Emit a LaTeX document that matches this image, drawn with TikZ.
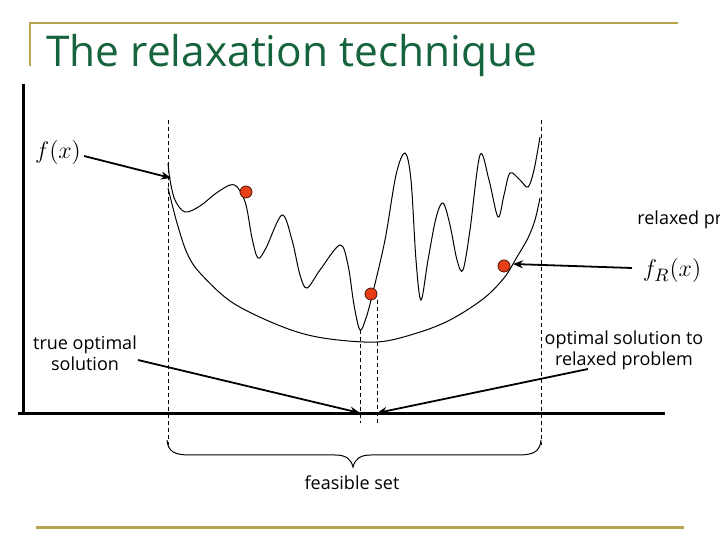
\documentclass[tikz,border=0pt]{standalone}
\usepackage[no-math]{fontspec}
\setmainfont{Open Sans}
\usetikzlibrary{arrows.meta}
\definecolor{gold}{RGB}{185,165,75}
\definecolor{titlegreen}{RGB}{22,100,62}
\definecolor{dotred}{RGB}{232,62,22}
\tikzset{
  axisline/.style={line width=1.5pt},
  goldline/.style={gold,line width=1.2pt},
  guide/.style={dash pattern=on 2pt off 1.5pt,line width=0.45pt},
  curve/.style={line width=0.5pt},
  arr/.style={line width=0.9pt,-{Stealth[length=5pt,width=4pt]}},
  lbl/.style={font=\fontsize{9}{10.5}\selectfont,align=center,inner sep=0pt},
  mathlbl/.style={font=\fontsize{12.5}{14}\selectfont,inner sep=0pt},
  rdot/.style={circle,fill=dotred,draw=black!70!dotred,line width=0.4pt,minimum size=6pt,inner sep=0pt}
}
\begin{document}
\begin{tikzpicture}[x=0.5pt,y=-0.5pt]
\useasboundingbox (0,0) rectangle (720,540);
% frame
\draw[goldline] (30,66) -- (30,23) -- (678,23);
\draw[goldline,line width=1.5pt] (36,528) -- (684,528);
\node[anchor=base west,inner sep=0pt,font=\fontsize{21.2}{26}\selectfont,text=titlegreen] (title) at (46,67) {The relaxation technique};
% axes
\draw[axisline] (24,84) -- (24,414);
\draw[axisline] (18,414) -- (665,414);
% dashed guides
\draw[guide] (168,120) -- (168,445);
\draw[guide] (541,120) -- (541,445);
\draw[guide] (360,330) -- (360,423);
\draw[guide] (377,300) -- (377,423);
% f(x)
\draw[curve] plot[smooth,tension=0.55] coordinates {
 (168,163) (170,180) (175,200) (185,212) (200,206) (215,194) (230,185) (238,188)
 (246,205) (252,238) (258,258) (266,248) (282,215) (292,240) (300,275) (307,288)
 (320,270) (340,245) (348,265) (354,305) (360,330) (366,318) (372,296) (385,240)
 (396,175) (405,153) (411,180) (416,260) (421,300) (428,260) (436,218) (443,203)
 (450,225) (457,260) (463,270) (470,230) (480,155) (489,180) (498,217) (504,195)
 (510,173) (520,180) (528,187) (534,170) (540,137)};
% f_R(x)
\draw[curve] plot[smooth,tension=0.55] coordinates {
 (168,188) (177,223) (187,253) (200,273) (233,303) (283,327) (323,338) (377,342)
 (417,333) (450,320) (483,299) (504,278) (517,257) (528,238) (535,220) (540,198)};
% dots
\node[rdot] (d1) at (246,192) {};
\node[rdot] (d2) at (371,294) {};
\node[rdot] (d3) at (504,266) {};
% labels
\node[mathlbl] (fx) at (58,153) {$f(x)$};
\node[mathlbl] (fR) at (672,271) {$f_R(x)$};
\node[lbl,anchor=west] (rp) at (637,220) {relaxed pr};
\node[lbl] (tos) at (85,353) {true optimal\\solution};
\node[lbl] (osr) at (624,350) {optimal solution to\\relaxed problem};
\node[lbl] (fs) at (352,483) {feasible set};
% arrow targets
\coordinate (fxt) at (171,178);
\coordinate (fRt) at (513,264);
\coordinate (t1) at (360,413);
\coordinate (t2) at (377,413);
\coordinate (s1) at (138,360);
\coordinate (s2) at (588,369);
\draw[arr] (84,156) -- (fxt);
\draw[arr] (632,268) -- (fRt);
\draw[arr] (s1) -- (t1);
\draw[arr] (s2) -- (t2);
% brace
\draw[curve] (167,440) .. controls (168,452) and (175,455) .. (190,455)
 -- (335,455) .. controls (346,455) and (351,459) .. (353,467)
 .. controls (355,459) and (360,455) .. (371,455) -- (518,455)
 .. controls (533,455) and (540,452) .. (541,440);
\end{tikzpicture}
\end{document}
